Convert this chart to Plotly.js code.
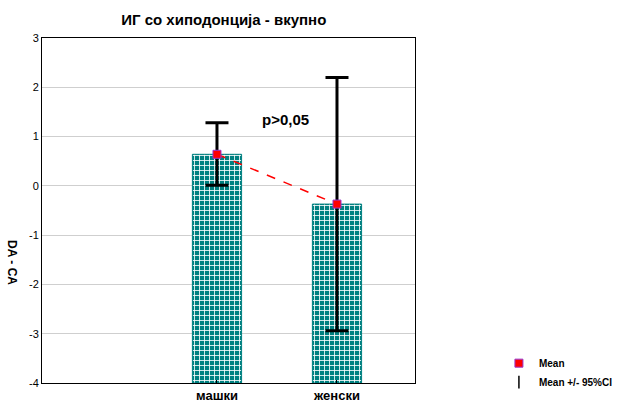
<!DOCTYPE html>
<html><head><meta charset="utf-8">
<script src="https://cdn.plot.ly/plotly-3.0.1.min.js"></script>
<style>html,body{margin:0;padding:0;background:#fff}#c{width:643px;height:402px}</style>
</head><body><div id="c"></div>
<script>
const categories = ["машки", "женски"];
const means = [0.64, -0.37];
const ciLow = [0.01, -2.94];
const ciHigh = [1.28, 2.20];
const barBase = -4;
const yTickVals = [-4, -3, -2, -1, 0, 1, 2, 3];
const yTickText = ["-4", "-3", "-2", "-1", "0", "1", "2", "3"];

const font = "Arial, 'Liberation Sans', sans-serif";

const bars = {
  type: "bar", x: categories, y: means.map(m => m - barBase), base: barBase,
  width: 0.41, showlegend: false, hoverinfo: "skip",
  marker: {color: "#008080", line: {color: "#008080", width: 1},
    pattern: {shape: "+", fgcolor: "#ffffff", bgcolor: "#008080", size: 5, solidity: 0.3}}
};
const line = {
  type: "scatter", mode: "lines", x: categories, y: means, showlegend: false,
  line: {color: "#ff0000", width: 1.5, dash: "dash"}
};
const ci = {
  type: "scatter", mode: "markers", x: categories, y: means, name: "Mean +/- 95%CI",
  marker: {symbol: "line-ns-open", size: 9, color: "#000", line: {color: "#000", width: 1.5}, opacity: 1},
  error_y: {type: "data", symmetric: false,
    array: ciHigh.map((h, i) => h - means[i]),
    arrayminus: ciLow.map((l, i) => means[i] - l),
    color: "#000", thickness: 3, width: 11.5}
};
const meanPts = {
  type: "scatter", mode: "markers", x: categories, y: means, name: "Mean",
  marker: {symbol: "square", size: 8, color: "#ff0000", line: {color: "#9933cc", width: 1}}
};

const layout = {
  width: 643, height: 402,
  margin: {l: 42, r: 228, t: 38, b: 19, autoexpand: false},
  paper_bgcolor: "#fff", plot_bgcolor: "#fff",
  font: {family: font, size: 11, color: "#000"},
  title: {text: "<b>ИГ со хиподонција - вкупно</b>", x: 0.348, xanchor: "center", y: 0.95, yanchor: "middle",
    font: {family: font, size: 15, color: "#000"}},
  xaxis: {type: "category", range: [-1.458, 1.65], showgrid: false, zeroline: false, automargin: false,
    showline: true, mirror: true, linecolor: "#000", linewidth: 1,
    ticks: "inside", ticklen: 3, tickcolor: "#000",
    tickvals: categories, ticktext: categories.map(c => "<b>" + c + "</b>"),
    tickfont: {family: font, size: 13, color: "#000"}, tickangle: 0},
  yaxis: {range: [-4, 3], tickvals: yTickVals, ticktext: yTickText, showgrid: true, gridcolor: "#cfcfcf", gridwidth: 1,
    zeroline: false, showline: true, mirror: true, linecolor: "#000", linewidth: 1, automargin: false,
    ticks: "", tickfont: {family: font, size: 11, color: "#000"}},
  showlegend: true,
  legend: {x: 1.225, xanchor: "left", y: 0.03, yanchor: "middle", bgcolor: "rgba(0,0,0,0)",
    font: {family: font, size: 10, color: "#000", weight: "bold"}, itemwidth: 30,
    tracegroupgap: 0, traceorder: "reversed"},
  annotations: [
    {text: "<b>p>0,05</b>", x: 0.567, y: 1.34, xref: "x", yref: "y", showarrow: false,
      xanchor: "center", yanchor: "middle",
      font: {family: font, size: 15, color: "#000"}},
    {text: "<b>DA - CA</b>", xref: "paper", yref: "paper", x: -0.08, y: 0.35, showarrow: false,
      xanchor: "center", yanchor: "middle",
      textangle: 90, font: {family: font, size: 12, color: "#000"}}
  ]
};

Plotly.newPlot("c", [bars, line, ci, meanPts], layout, {staticPlot: true, displayModeBar: false});
</script></body></html>
